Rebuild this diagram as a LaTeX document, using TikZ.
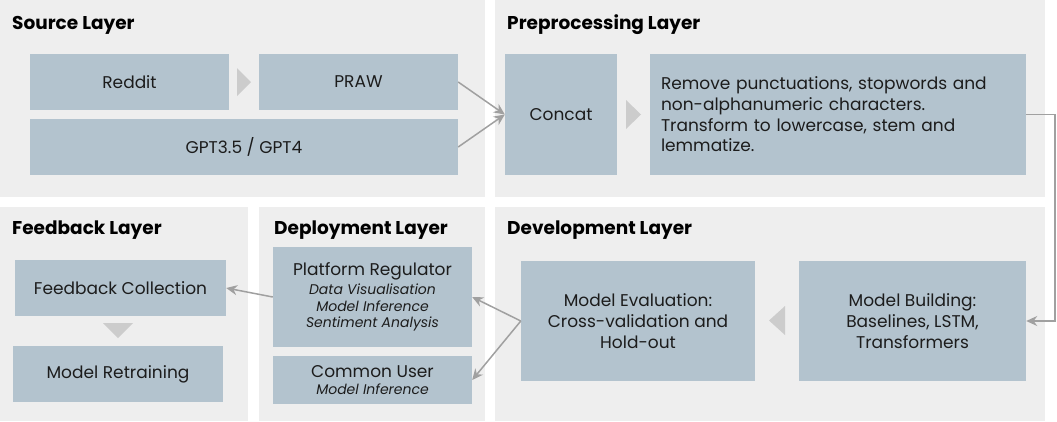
\documentclass[tikz,border=0pt]{standalone}
\usepackage{fontspec}
\setmainfont{Poppins}
\usetikzlibrary{arrows.meta}
\definecolor{panelc}{HTML}{EEEEEE}
\definecolor{boxc}{HTML}{B3C3CE}
\definecolor{tric}{HTML}{CCCCCC}
\definecolor{arrc}{HTML}{A0A0A0}
\definecolor{txtc}{HTML}{1C1C1C}
\newcommand\subtxt{\fontsize{14}{15.7}\selectfont\itshape}
\begin{document}
\begin{tikzpicture}[x=1pt,y=-1pt,
  panel/.style={fill=panelc,draw=none},
  ttl/.style={anchor=base west,inner sep=0,font=\fontsize{18.5}{22}\selectfont\bfseries,text=black},
  box/.style={fill=boxc,draw=none,inner sep=0,text=txtc,align=center,font=\fontsize{17}{20.7}\selectfont},
  tri/.style={fill=tric,draw=none},
  conn/.style={draw=arrc,line width=1.5pt,-{Stealth[length=11pt,width=10pt]}}
]
\useasboundingbox (0,0) rectangle (1057,421);
% panels
\fill[panel] (0,0) rectangle (485,197);
\fill[panel] (495,0) rectangle (1045,197);
\fill[panel] (0,207) rectangle (248,421);
\fill[panel] (259,207) rectangle (485,421);
\fill[panel] (495,207) rectangle (1045,421);
% titles
\node[ttl] (tsrc) at (12,29) {Source Layer};
\node[ttl] (tpre) at (507,29) {Preprocessing Layer};
\node[ttl] (tfb) at (12,234) {Feedback Layer};
\node[ttl] (tdep) at (274,234) {Deployment Layer};
\node[ttl] (tdev) at (507,234) {Development Layer};
% boxes
\node[box,minimum width=199,minimum height=56] (reddit) at (129.5,82) {Reddit};
\node[box,minimum width=199,minimum height=56] (praw) at (358.5,82) {PRAW};
\node[box,minimum width=428,minimum height=56] (gpt) at (244,147) {GPT3.5 / GPT4};
\node[box,minimum width=112,minimum height=121] (concat) at (561,114.5) {Concat};
\node[box,minimum width=376,minimum height=121,text width=354,align=left] (proc) at (838,114.5) {Remove punctuations, stopwords and\\non-alphanumeric characters.\\Transform to lowercase, stem and\\lemmatize.};
\node[box,minimum width=234,minimum height=120] (eval) at (638,321) {Model Evaluation:\\Cross-validation and\\Hold-out};
\node[box,minimum width=227,minimum height=120] (build) at (912.5,321) {Model Building:\\Baselines, LSTM,\\Transformers};
\node[box,minimum width=199,minimum height=100] (plat) at (372.5,297) {Platform Regulator\\[-2pt]{\subtxt Data Visualisation}\\[-4pt]{\subtxt Model Inference}\\[-4pt]{\subtxt Sentiment Analysis}};
\node[box,minimum width=199,minimum height=48] (common) at (372.5,380) {Common User\\[-3pt]{\subtxt Model Inference}};
\node[box,minimum width=211,minimum height=56] (fbc) at (120.5,288) {Feedback Collection};
\node[box,minimum width=210,minimum height=56] (retrain) at (118,374) {Model Retraining};
% triangles
\fill[tri] (237,68) -- (237,96) -- (251,82) -- cycle;
\fill[tri] (626,100) -- (626,129) -- (641,114.5) -- cycle;
\fill[tri] (785,306) -- (785,335) -- (769,320.5) -- cycle;
\fill[tri] (103,323) -- (133,323) -- (118,338) -- cycle;
% connectors
\coordinate (turn) at (1055,114.5);
\draw[conn] (praw.east) -- (concat.west);
\draw[conn] (gpt.east) -- (concat.west);
\draw[conn] (proc.east) -- (turn) |- (build.east);
\draw[conn] (eval.west) -- (plat.east);
\draw[conn] (eval.west) -- (common.east);
\draw[conn] (plat.west) -- (fbc.east);
\end{tikzpicture}
\end{document}
